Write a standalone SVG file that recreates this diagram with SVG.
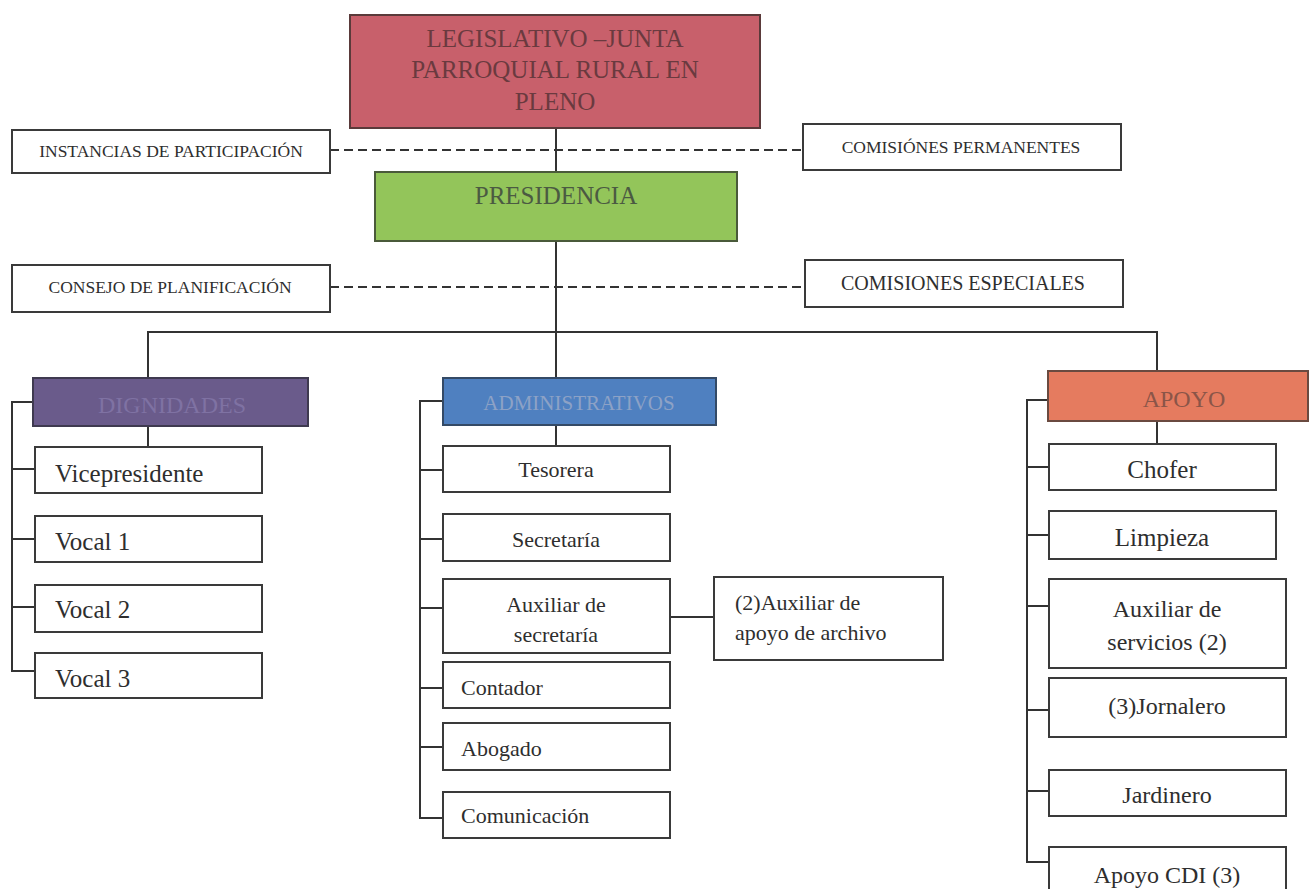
<svg xmlns="http://www.w3.org/2000/svg" width="1315" height="889" viewBox="0 0 1315 889">
<style>
.box{fill:#ffffff;stroke:#3a3a3a;stroke-width:2}
.ln{fill:none;stroke:#333333;stroke-width:2}
.dash{fill:none;stroke:#333333;stroke-width:2;stroke-dasharray:9,5}
text{font-family:"Liberation Serif","Times New Roman",serif;fill:#2e2e2e}
.c{text-anchor:middle}
.sm{font-size:17.5px}
.md{font-size:22px}
.lg{font-size:24px}
.xl{font-size:25px}
</style>
<rect width="1315" height="889" fill="#ffffff"/>
<g id="connectors">
<line class="ln" x1="556" y1="128" x2="556" y2="172"/>
<line class="ln" x1="556" y1="241" x2="556" y2="378"/>
<line class="dash" x1="330" y1="150" x2="803" y2="150"/>
<line class="dash" x1="330" y1="287" x2="805" y2="287"/>
<polyline class="ln" points="148,378 148,332 1157,332 1157,371"/>
<line class="ln" x1="148" y1="426" x2="148" y2="447"/>
<polyline class="ln" points="34,402 12,402 12,671 35,671"/>
<line class="ln" x1="12" y1="469" x2="35" y2="469"/>
<line class="ln" x1="12" y1="539" x2="35" y2="539"/>
<line class="ln" x1="12" y1="607" x2="35" y2="607"/>
<line class="ln" x1="556" y1="425" x2="556" y2="446"/>
<polyline class="ln" points="443,401 420,401 420,818 443,818"/>
<line class="ln" x1="420" y1="470" x2="443" y2="470"/>
<line class="ln" x1="420" y1="539" x2="443" y2="539"/>
<line class="ln" x1="420" y1="608" x2="443" y2="608"/>
<line class="ln" x1="420" y1="688" x2="443" y2="688"/>
<line class="ln" x1="420" y1="747" x2="443" y2="747"/>
<line class="ln" x1="670" y1="617" x2="714" y2="617"/>
<line class="ln" x1="1157" y1="421" x2="1157" y2="444"/>
<polyline class="ln" points="1048,400 1027,400 1027,862 1049,862"/>
<line class="ln" x1="1027" y1="467" x2="1049" y2="467"/>
<line class="ln" x1="1027" y1="535" x2="1049" y2="535"/>
<line class="ln" x1="1027" y1="606" x2="1049" y2="606"/>
<line class="ln" x1="1027" y1="710" x2="1049" y2="710"/>
<line class="ln" x1="1027" y1="791" x2="1049" y2="791"/>
</g>
<g id="legislativo">
<rect x="350" y="15" width="410" height="113" fill="#c8606b" stroke="#5a3a3a" stroke-width="2"/>
<text class="c xl" x="555" y="47" style="fill:#6a3a3f">LEGISLATIVO –JUNTA</text>
<text class="c xl" x="555" y="78" style="fill:#6a3a3f">PARROQUIAL RURAL EN</text>
<text class="c xl" x="555" y="110" style="fill:#6a3a3f">PLENO</text>
</g>
<g id="instancias">
<rect class="box" x="12" y="130" width="318" height="43"/>
<text class="c sm" x="171" y="157">INSTANCIAS DE PARTICIPACIÓN</text>
</g>
<g id="comisiones-permanentes">
<rect class="box" x="803" y="124" width="318" height="46"/>
<text class="c sm" x="961" y="153">COMISIÓNES PERMANENTES</text>
</g>
<g id="presidencia">
<rect x="375" y="172" width="362" height="69" fill="#93c55a" stroke="#4a5a3a" stroke-width="2"/>
<text class="c xl" x="556" y="204" style="fill:#4b5a42">PRESIDENCIA</text>
</g>
<g id="consejo">
<rect class="box" x="12" y="265" width="318" height="47"/>
<text class="c sm" x="170" y="293">CONSEJO DE PLANIFICACIÓN</text>
</g>
<g id="comisiones-especiales">
<rect class="box" x="805" y="260" width="318" height="47"/>
<text class="c" x="963" y="290" font-size="20">COMISIONES ESPECIALES</text>
</g>
<g id="dignidades">
<rect x="33" y="378" width="275" height="48" fill="#6a5b8b" stroke="#3f3a50" stroke-width="2"/>
<text class="c lg" x="172" y="413" style="fill:#7f72a3">DIGNIDADES</text>
</g>
<g id="vicepresidente">
<rect class="box" x="35" y="447" width="227" height="46"/>
<text class="xl" x="55" y="482">Vicepresidente</text>
</g>
<g id="vocal1">
<rect class="box" x="35" y="516" width="227" height="46"/>
<text class="xl" x="55" y="550">Vocal 1</text>
</g>
<g id="vocal2">
<rect class="box" x="35" y="585" width="227" height="47"/>
<text class="xl" x="55" y="618">Vocal 2</text>
</g>
<g id="vocal3">
<rect class="box" x="35" y="653" width="227" height="45"/>
<text class="xl" x="55" y="687">Vocal 3</text>
</g>
<g id="administrativos">
<rect x="443" y="378" width="273" height="47" fill="#4f80c0" stroke="#344a66" stroke-width="2"/>
<text class="c" x="579" y="410" font-size="21" style="fill:#8da2c6">ADMINISTRATIVOS</text>
</g>
<g id="tesorera">
<rect class="box" x="443" y="446" width="227" height="46"/>
<text class="c md" x="556" y="477">Tesorera</text>
</g>
<g id="secretaria">
<rect class="box" x="443" y="514" width="227" height="47"/>
<text class="c md" x="556" y="547">Secretaría</text>
</g>
<g id="auxiliar-secretaria">
<rect class="box" x="443" y="579" width="227" height="74"/>
<text class="c md" x="556" y="612">Auxiliar de</text>
<text class="c md" x="556" y="642">secretaría</text>
</g>
<g id="auxiliar-archivo">
<rect class="box" x="714" y="577" width="229" height="83"/>
<text class="md" x="735" y="610">(2)Auxiliar de</text>
<text class="md" x="735" y="640">apoyo de archivo</text>
</g>
<g id="contador">
<rect class="box" x="443" y="662" width="227" height="46"/>
<text class="md" x="461" y="695">Contador</text>
</g>
<g id="abogado">
<rect class="box" x="443" y="723" width="227" height="47"/>
<text class="md" x="461" y="756">Abogado</text>
</g>
<g id="comunicacion">
<rect class="box" x="443" y="792" width="227" height="46"/>
<text class="md" x="461" y="823">Comunicación</text>
</g>
<g id="apoyo">
<rect x="1048" y="371" width="260" height="50" fill="#e57b5f" stroke="#6a4a40" stroke-width="2"/>
<text class="c lg" x="1184" y="407" style="fill:#8a5548">APOYO</text>
</g>
<g id="chofer">
<rect class="box" x="1049" y="444" width="227" height="46"/>
<text class="c xl" x="1162" y="478">Chofer</text>
</g>
<g id="limpieza">
<rect class="box" x="1049" y="511" width="227" height="48"/>
<text class="c xl" x="1162" y="546">Limpieza</text>
</g>
<g id="auxiliar-servicios">
<rect class="box" x="1049" y="579" width="237" height="89"/>
<text class="c lg" x="1167" y="617">Auxiliar de</text>
<text class="c lg" x="1167" y="650">servicios (2)</text>
</g>
<g id="jornalero">
<rect class="box" x="1049" y="678" width="237" height="59"/>
<text class="c lg" x="1167" y="714">(3)Jornalero</text>
</g>
<g id="jardinero">
<rect class="box" x="1049" y="770" width="237" height="46"/>
<text class="c lg" x="1167" y="803">Jardinero</text>
</g>
<g id="apoyo-cdi">
<rect class="box" x="1049" y="847" width="237" height="50"/>
<text class="c lg" x="1167" y="883">Apoyo CDI (3)</text>
</g>
</svg>
